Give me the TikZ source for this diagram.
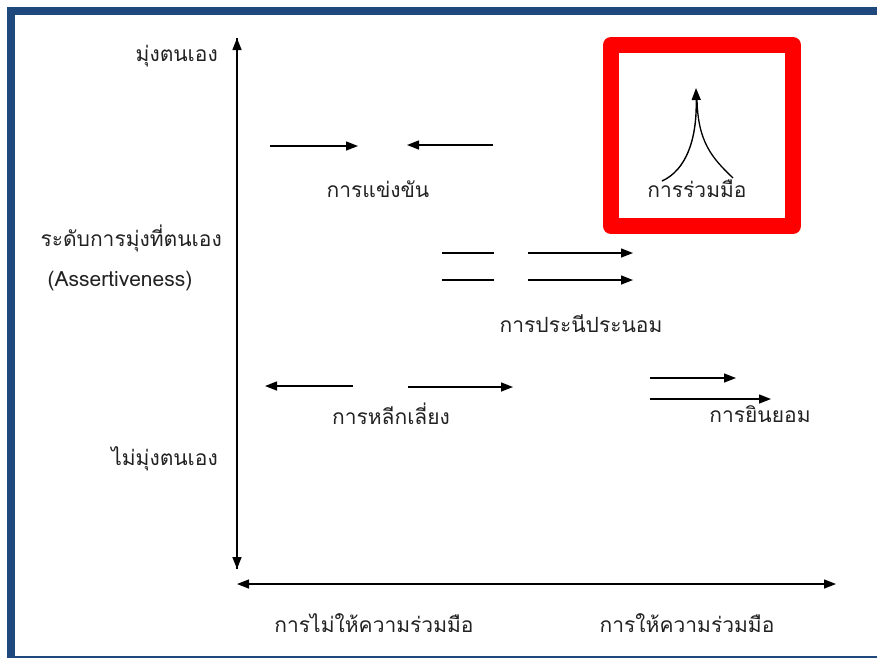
\documentclass[tikz,border=0pt]{standalone}
\usepackage{fontspec}
\newfontfamily\thaifont[Script=Thai]{Loma}
\usetikzlibrary{arrows.meta}
\definecolor{framecol}{RGB}{31,73,125}
\definecolor{boxred}{RGB}{255,0,0}
\definecolor{txt}{RGB}{34,34,34}
\tikzset{
  lbl/.style={inner sep=0pt, text=txt, font=\thaifont\fontsize{21}{25}\selectfont},
  ax/.style={line width=1.4pt, -{Triangle[length=12pt,width=9pt]}},
  dax/.style={line width=1.4pt, {Triangle[length=12pt,width=9pt]}-{Triangle[length=12pt,width=9pt]}},
  arr/.style={line width=1.4pt, -{Triangle[length=12pt,width=9pt]}},
  seg/.style={line width=1.4pt},
}
\begin{document}
\begin{tikzpicture}[x=1pt,y=-1pt]
\useasboundingbox (0,0) rectangle (877,657);
\begin{scope}
\clip (0,0) rectangle (877,657);
\draw[framecol, line width=8pt] (11,11) rectangle (881,660);
\end{scope}
% red box
\draw[boxred, line width=16pt, line join=round] (611,45) rectangle (793,226);
% axes
\coordinate (vtop) at (237,38);
\coordinate (vbot) at (237,569);
\coordinate (hl) at (237,584);
\coordinate (hr) at (836,584);
\draw[ax] (vbot) -- (vtop);
\draw[ax] (vtop) -- (vbot);
\draw[dax] (hl) -- (hr);
% axis labels
\node[lbl, anchor=east] (hi) at (218,56) {มุ่งตนเอง};
\node[lbl, anchor=east] (lvl) at (222,238) {ระดับการมุ่งที่ตนเอง};
\node[lbl] (assert) at (120,281) {(Assertiveness)};
\node[lbl, anchor=east] (lo) at (218,459) {ไม่มุ่งตนเอง};
\node[lbl] (nocoop) at (374,623) {การไม่ให้ความร่วมมือ};
\node[lbl] (coop) at (687,623) {การให้ความร่วมมือ};
% style labels
\node[lbl] (comp) at (378,189) {การแข่งขัน};
\node[lbl] (collab) at (697,189) {การร่วมมือ};
\node[lbl] (compro) at (581,324) {การประนีประนอม};
\node[lbl] (avoid) at (391,414) {การหลีกเลี่ยง};
\node[lbl] (accom) at (760,414) {การยินยอม};
% competition
\coordinate (c1s) at (270,146); \coordinate (c1e) at (358,146);
\coordinate (c2s) at (493,145); \coordinate (c2e) at (407,145);
\draw[arr] (c1s) -- (c1e);
\draw[arr] (c2s) -- (c2e);
% compromise
\coordinate (p1s) at (442,253); \coordinate (p1e) at (494,253);
\coordinate (p2s) at (442,280); \coordinate (p2e) at (494,280);
\coordinate (p3s) at (528,253); \coordinate (p3e) at (633,253);
\coordinate (p4s) at (528,280); \coordinate (p4e) at (633,280);
\draw[seg] (p1s) -- (p1e);
\draw[seg] (p2s) -- (p2e);
\draw[arr] (p3s) -- (p3e);
\draw[arr] (p4s) -- (p4e);
% avoidance
\coordinate (a1s) at (353,386); \coordinate (a1e) at (265,386);
\coordinate (a2s) at (408,387); \coordinate (a2e) at (513,387);
\draw[arr] (a1s) -- (a1e);
\draw[arr] (a2s) -- (a2e);
% accommodation
\coordinate (m1s) at (650,378); \coordinate (m1e) at (736,378);
\coordinate (m2s) at (650,399); \coordinate (m2e) at (771,399);
\draw[arr] (m1s) -- (m1e);
\draw[arr] (m2s) -- (m2e);
% collaboration
\coordinate (k1) at (662,181);
\coordinate (k2) at (733,178);
\coordinate (ktip) at (696,88);
\draw[line width=1.3pt] (k2) .. controls (712,158) and (698,142) .. (697,100);
\draw[arr] (k1) .. controls (686,170) and (697,140) .. (ktip);
\end{tikzpicture}
\end{document}
